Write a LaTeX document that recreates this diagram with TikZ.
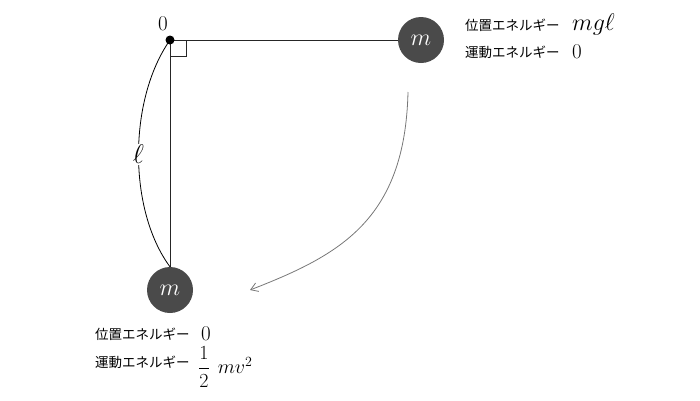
\RequirePackage{fix-cm}
\documentclass[tikz,border=0pt]{standalone}
\usepackage{fontspec}
\usepackage{amsmath}
\newfontfamily\jp{Noto Sans CJK JP}
\usetikzlibrary{arrows.meta}
\definecolor{massgray}{HTML}{4A4A4A}
\definecolor{arrowgray}{HTML}{777777}
\tikzset{
  mass/.style={circle, fill=massgray, minimum size=46pt, inner sep=0pt, text=white, font=\fontsize{24}{24}\selectfont},
  jptext/.style={anchor=west, inner sep=0pt, font=\jp\fontsize{13.5}{14}\selectfont},
  mathtext/.style={anchor=west, inner sep=0pt, font=\fontsize{24}{24}\selectfont},
  numtext/.style={anchor=west, inner sep=0pt, font=\fontsize{21}{21}\selectfont},
  rod/.style={draw=black!85, line width=0.8pt},
}
\begin{document}
\begin{tikzpicture}[x=1pt, y=-1pt]
\useasboundingbox (0,0) rectangle (700,400);
\coordinate (O) at (170,40);
\node[mass] (top) at (421,40) {$m$};
\node[mass] (bot) at (170,290) {$m$};
\draw[rod] (O) -- (top);
\draw[rod] (O) -- (bot);
\coordinate (ra1) at (170,56);
\coordinate (ra2) at (186,56);
\coordinate (ra3) at (186,40);
\draw[black!85, line width=0.7pt] (ra1) -- (ra2) -- (ra3);
\draw[black, line width=0.8pt] (O) .. controls (128,100) and (128,210) .. (bot.north)
  node[pos=0.5, fill=white, inner sep=1pt, font=\fontsize{27}{27}\selectfont] (ell) {$\ell$};
\fill[black] (O) circle (4.5pt);
\node[inner sep=0pt, font=\fontsize{21}{21}\selectfont] (zero) at (163,24) {$0$};
% arrow
\coordinate (as) at (408,92);
\coordinate (ae) at (250,290);
\draw[arrowgray, line width=0.8pt, -{Straight Barb[length=7pt, width=9pt]}] (as) .. controls (405,220) and (340,255) .. (ae);
% top texts
\node[jptext] (t1) at (465,25) {位置エネルギー};
\node[mathtext] (t1m) at (572,24) {$mg\ell$};
\node[jptext] (t2) at (465,52) {運動エネルギー};
\node[numtext] (t2m) at (572,52) {$0$};
% bottom texts
\node[jptext] (b1) at (95,334) {位置エネルギー};
\node[numtext] (b1m) at (201,334) {$0$};
\node[jptext] (b2) at (95,362) {運動エネルギー};
\node[numtext, font=\fontsize{20}{20}\selectfont] (b2m) at (198,367) {$\dfrac{1}{2}$\hspace{8pt}$mv^2$};
\end{tikzpicture}
\end{document}
